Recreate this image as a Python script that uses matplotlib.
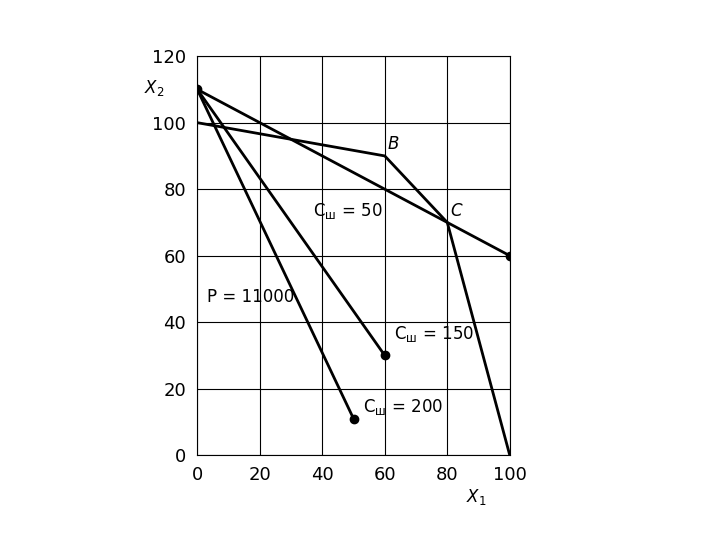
import matplotlib
matplotlib.use("Agg")
import matplotlib.pyplot as plt

# feasible region boundary
bound_x = [0, 60, 80, 100]
bound_y = [100, 90, 70, 0]
# objective lines from the common point (0, 110)
start = (0, 110)
ends_x = [100, 60, 50]
ends_y = [60, 30, 11]

xticks = [0, 20, 40, 60, 80, 100]
yticks = [0, 20, 40, 60, 80, 100, 120]

fig = plt.figure(figsize=(7.2, 5.4), dpi=100)
ax = fig.add_axes([0.274, 0.157, 0.434, 0.739])
ax.plot(bound_x, bound_y, color='black', lw=2)
for ex, ey in zip(ends_x, ends_y):
    ax.plot([start[0], ex], [start[1], ey], color='black', lw=2)
    ax.plot(ex, ey, 'o', color='black', ms=6)
ax.plot(start[0], start[1], 'o', color='black', ms=6)

ax.set_xlim(0, 100)
ax.set_ylim(0, 120)
ax.set_xticks(xticks)
ax.set_yticks(yticks)
ax.grid(True, color='black', lw=0.8)
for s in ax.spines.values():
    s.set_linewidth(0.8)
ax.tick_params(length=0, labelsize=13, pad=8)

fs = 12
ax.text(61, 92, 'B', fontsize=fs, style='italic')
ax.text(81, 72, 'C', fontsize=fs, style='italic')
ax.text(37, 72, 'C$_\\mathrm{ш}$ = 50', fontsize=fs)
ax.text(3, 46, 'P = 11000', fontsize=fs)
ax.text(63, 35, 'C$_\\mathrm{ш}$ = 150', fontsize=fs)
ax.text(53, 13, 'C$_\\mathrm{ш}$ = 200', fontsize=fs)
ax.text(-17, 109, '$X_2$', fontsize=fs)
ax.text(86, -14, '$X_1$', fontsize=fs)

fig.savefig('out.png')
